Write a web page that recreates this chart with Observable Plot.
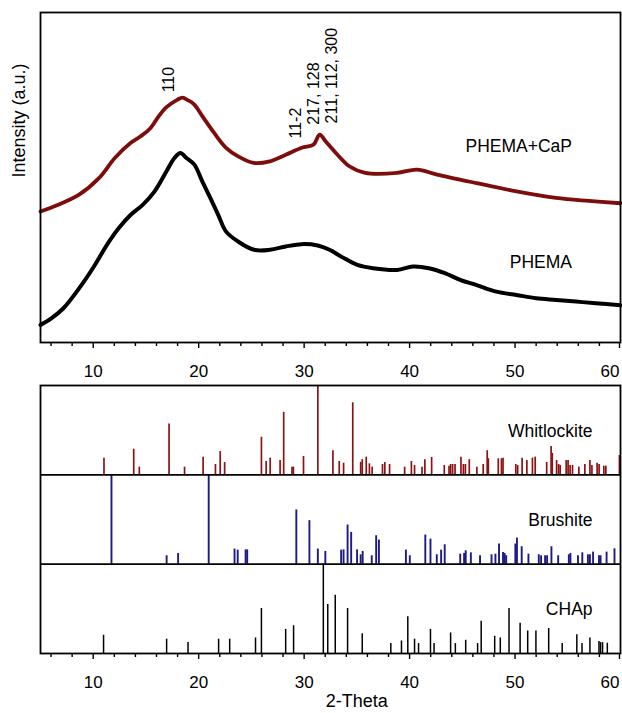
<!DOCTYPE html>
<html><head><meta charset="utf-8">
<script src="https://cdn.jsdelivr.net/npm/d3@7"></script>
<script src="https://cdn.jsdelivr.net/npm/@observablehq/plot@0.6"></script>
<style>
body{margin:0;background:#fff;}
#chart{width:622px;height:713px;overflow:hidden;}
#chart svg{display:block;}
</style></head><body><div id="chart"></div>
<script>
// ---------- top panel: measured patterns ----------
const capTheta = [5.0,6.5,8.66,10.54,12.05,13.56,14.5,15.44,16.2,16.95,18.0,18.46,19.0,19.59,20.34,21.47,22.6,23.74,25.24,26.75,28.26,29.77,30.9,31.47,32.03,33.16,34.29,35.8,38.8,40.7,42.6,46.36,50.13,53.9,57.0,60];
const capI     = [39.7,41.5,44.8,49.8,55.9,60.5,62.5,65.0,68.5,71.3,73.6,74.2,73.4,72.1,68.6,63.5,59.0,56.4,54.4,54.9,56.9,59.0,60.0,63.0,61.0,56.9,53.4,51.4,51.4,52.4,50.9,48.3,45.8,43.8,42.9,42.2];

const phemaTheta = [5.0,6.02,7.15,8.66,10.16,11.3,12.43,13.56,14.69,15.82,16.95,17.7,18.27,18.84,19.59,20.34,21.1,21.85,22.6,23.74,25.24,26.75,28.26,29.77,31.28,32.41,33.54,35.05,36.55,38.82,40.32,41.83,43.34,44.85,46.36,48.24,50.13,52.01,53.9,55.78,57.66,60];
const phemaI     = [5.3,7.3,10.3,16.4,23.5,29.6,34.7,38.7,41.7,45.8,51.9,55.9,57.4,55.9,53.9,48.8,43.8,38.7,33.6,30.6,28.1,28.1,29.1,29.8,29.4,28.1,26.0,23.5,22.5,22.0,23.0,22.5,21.0,18.9,17.4,15.4,14.4,13.4,12.9,12.4,11.9,11.3];

const peakLabels = ["110","11-2","217, 128","211, 112, 300"];
const peakTheta  = [17.14,29.18,30.89,32.6];
const peakBase   = [75.8,61.8,66.0,66.4];

const curveNames = ["PHEMA+CaP","PHEMA"];
const curveLabelI = [59.5,24.3];

const majorTicks = [10,20,30,40,50,60];
const minorTicks = [6,8,12,14,16,18,22,24,26,28,32,34,36,38,42,44,46,48,52,54,56,58];

// ---------- bottom panel: reference sticks ----------
const phases = ["Whitlockite","Brushite","CHAp"];
const whitTheta = [11.02,13.84,14.37,17.19,18.66,20.42,21.59,22.04,22.46,25.95,26.4,26.78,27.72,28.06,28.85,28.98,29.94,31.3,32.73,33.33,33.74,34.61,35.36,35.51,35.89,36.19,36.45,37.43,37.65,38.1,39.53,40.17,40.47,41.18,41.45,42.09,43.29,43.74,43.89,44.08,44.31,44.87,45.1,45.29,45.66,46.38,46.98,47.36,47.47,48.41,48.71,48.86,50.07,50.25,50.67,51.12,51.65,51.91,53.0,53.42,53.53,53.94,54.13,54.28,54.85,55.03,55.22,55.45,56.05,56.62,57.1,57.29,57.78,57.97,58.42,58.61,59.9];
const whitH     = [18.7,28.7,8.6,57,8.6,19.8,11.6,26,13.8,42,15,18.7,16,70,8.6,8.6,20.5,99,27,15,13,80.6,14,17,19.8,12.3,8.6,11.6,13.8,11.6,8.6,15,10.4,8.6,17,19.4,10.4,9.7,11.6,11.6,11.6,19.8,11.6,11.6,17,8.6,11.6,27,18,18,18,18.7,11.6,10.4,18.7,16,18.7,19.8,13.8,31.7,24,16,11.6,10.4,16,16,10.4,10.4,8.6,11.6,16,10.4,13,11.6,9.7,9.7,21.6];

const brushTheta = [11.73,16.96,18.05,20.95,23.4,23.7,24.45,24.6,29.26,30.5,31.3,32.01,33.51,33.74,34.12,34.46,35.02,35.36,35.55,36.41,36.83,37.09,39.65,40.02,41.49,41.98,42.58,42.99,43.33,44.8,45.17,45.32,45.81,46.68,47.77,48.14,48.48,48.86,49.01,49.16,50.03,50.18,50.63,51.27,52.25,52.47,52.85,53.04,53.45,54.09,55.1,55.25,55.97,56.38,56.91,57.1,57.4,57.96,58.11,58.68,59.43];
const brushH     = [100,9.4,12,100,16.9,15.7,16,16,60.7,48.7,16.9,14.2,15.7,16,43.8,35.6,16,10.5,14.2,9.4,31.8,27,15.7,9.4,32.6,28,10.5,15.7,21.7,11.2,12,15,12.7,9.4,10.5,11.2,22.5,13,12,9.4,22.5,29.2,19.5,11.2,10.5,9.4,9.4,9.4,19.5,9.4,10.5,12,9.4,12.7,10.5,10.5,13.5,9.4,9.4,13.5,17.2];

const chapTheta = [10.98,16.96,18.99,21.89,22.94,25.39,25.95,28.25,29.0,31.82,32.24,32.95,34.12,35.51,38.22,39.23,39.83,40.47,40.85,41.98,42.32,43.89,44.34,45.32,46.45,46.79,48.07,48.6,49.43,50.48,51.2,51.98,53.19,54.47,55.86,56.35,57.1,57.96,58.11,58.3,58.75];
const chapH     = [20.4,16,12.2,16,16,17.4,50.4,27,31.1,100,54.8,65.2,50.4,22.2,11.1,14,41,16,11.1,27,11.1,23,11.1,14.8,11.1,36,19.3,17.4,50.4,34,25.2,25.2,28,11.1,21,11.1,17.4,13.3,12.2,12.2,11.5];

// ---------- build tables ----------
const zip = (xs, ys) => xs.map((x, i) => ({x, y: ys[i]}));
const capRows = zip(capTheta, capI);
const phemaRows = zip(phemaTheta, phemaI);
const peakRows = peakLabels.map((t, i) => ({t, x: peakTheta[i], y: peakBase[i]}));
const curveRows = curveNames.map((t, i) => ({t, y: curveLabelI[i]}));

const offsets = {Whitlockite: 200, Brushite: 100, CHAp: 0};
const sticks = (name, xs, hs) => xs.map((x, i) => ({x, y1: offsets[name], y2: offsets[name] + hs[i]}));
const whitRows = sticks("Whitlockite", whitTheta, whitH);
const brushRows = sticks("Brushite", brushTheta, brushH);
const chapRows = sticks("CHAp", chapTheta, chapH);

const FONT = "'Liberation Sans', Arial, Helvetica, sans-serif";
const RED = "#7d0c0c";
const WHIT = "#8a1414";
const BRUSH = "#1d1a86";

const lastTick = majorTicks[majorTicks.length - 1];
const axes = () => [
  Plot.axisX({ticks: minorTicks, tickSize: 4, tickFormat: () => "", label: null, strokeWidth: 1.4}),
  Plot.axisX({ticks: majorTicks.slice(0, -1), tickSize: 6, tickPadding: 16, label: null, strokeWidth: 1.4, fontSize: 17}),
  Plot.axisX({ticks: [lastTick], tickSize: 6, tickPadding: 16, label: null, strokeWidth: 1.4, fontSize: 17, textAnchor: "end", dx: -1})
];

const topPlot = Plot.plot({
  width: 622, height: 382,
  marginLeft: 40, marginRight: 2, marginTop: 12, marginBottom: 40,
  x: {domain: [5, 60]},
  y: {domain: [0, 100], axis: null},
  style: {fontFamily: FONT, fontSize: "17px", color: "black", background: "white", overflow: "visible"},
  marks: [
    ...axes(),
    Plot.line(capRows, {x: "x", y: "y", stroke: RED, strokeWidth: 3.8, curve: "catmull-rom", strokeLinejoin: "round"}),
    Plot.line(phemaRows, {x: "x", y: "y", stroke: "black", strokeWidth: 4, curve: "catmull-rom", strokeLinejoin: "round"}),
    Plot.text(peakRows, {x: "x", y: "y", text: "t", rotate: -90, textAnchor: "start", lineAnchor: "middle", fontSize: 16, fill: "black"}),
    Plot.text(curveRows, {x: () => 55.4, y: "y", text: "t", textAnchor: "end", fontSize: 17.5, fill: "black"}),
    Plot.text(["Intensity (a.u.)"], {frameAnchor: "left", dx: -21, rotate: -90, fontSize: 18, fill: "black"}),
    Plot.frame({stroke: "black", strokeWidth: 1.8})
  ]
});

const bottomPlot = Plot.plot({
  width: 622, height: 331,
  marginLeft: 40, marginRight: 2, marginTop: 3, marginBottom: 60,
  x: {domain: [5, 60]},
  y: {domain: [0, 300], axis: null},
  style: {fontFamily: FONT, fontSize: "17px", color: "black", background: "white", overflow: "visible"},
  marks: [
    ...axes(),
    Plot.ruleX(whitRows, {x: "x", y1: "y1", y2: "y2", stroke: WHIT, strokeWidth: 1.7}),
    Plot.ruleX(brushRows, {x: "x", y1: "y1", y2: "y2", stroke: BRUSH, strokeWidth: 1.9}),
    Plot.ruleX(chapRows, {x: "x", y1: "y1", y2: "y2", stroke: "black", strokeWidth: 1.5}),
    Plot.ruleY([100, 200], {stroke: "black", strokeWidth: 1.8}),
    Plot.text(phases, {x: () => 57.35, y: d => offsets[d] + 49, text: d => d, textAnchor: "end", fontSize: 17.5, fill: "black"}),
    Plot.text(["2-Theta"], {x: () => 35, frameAnchor: "bottom", dy: 53, fontSize: 18, fill: "black"}),
    Plot.frame({stroke: "black", strokeWidth: 1.8})
  ]
});

const host = document.getElementById("chart");
host.appendChild(topPlot);
host.appendChild(bottomPlot);
</script>
</body></html>
